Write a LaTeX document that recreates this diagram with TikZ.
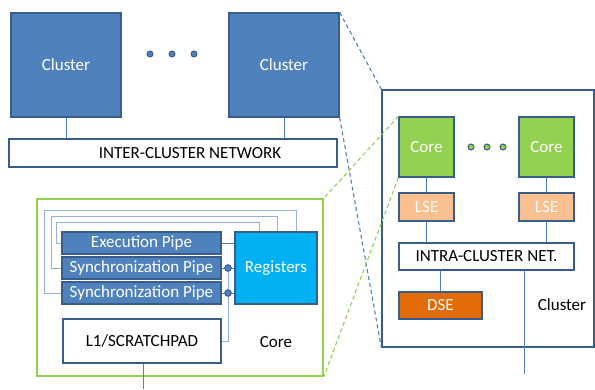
\documentclass[tikz,border=0pt]{standalone}
\usepackage{fontspec}
\setmainfont{Carlito}
\definecolor{officeblue}{HTML}{4F81BD}
\definecolor{edgeblue}{HTML}{385D8A}
\definecolor{paleblue}{HTML}{95B3D7}
\definecolor{coregreen}{HTML}{92D050}
\definecolor{lseorange}{HTML}{FAC090}
\definecolor{dseorange}{HTML}{E36C09}
\definecolor{regcyan}{HTML}{00B0F0}
\tikzset{
  box/.style={draw=edgeblue, line width=1.3pt, inner sep=0pt,
    font=\fontsize{17}{20}\selectfont},
  bluebox/.style={box, fill=officeblue, text=white},
  whitebox/.style={box, fill=white, text=black},
  corebox/.style={box, fill=coregreen, text=white},
  lsebox/.style={box, fill=lseorange, text=white},
  pipebox/.style={box, fill=officeblue, text=white, minimum height=22},
  link/.style={draw=officeblue, line width=0.9pt},
  feed/.style={draw=paleblue, line width=1pt},
  zoomline/.style={dashed, dash pattern=on 4pt off 3pt, line width=1.1pt},
  dotmark/.style={draw=edgeblue, line width=1pt},
  plain/.style={font=\fontsize{17}{20}\selectfont}
}
\begin{document}
\begin{tikzpicture}[x=1pt,y=-1pt]
\useasboundingbox (0,0) rectangle (595,389);
% top level: clusters and network
\node[bluebox, minimum width=110, minimum height=104] (cl1) at (66,65) {Cluster};
\node[bluebox, minimum width=110, minimum height=104] (cl2) at (284,65) {Cluster};
\node[whitebox, minimum width=328, minimum height=28] (inet) at (173,153) {\hspace*{34pt}INTER-CLUSTER NETWORK};
\foreach \x in {150,172,194}
  \filldraw[dotmark, fill=officeblue] (\x,54) circle (3);
\draw[link] (cl1.south) -- (cl1.south |- inet.north);
\draw[link] (cl2.south) -- (cl2.south |- inet.north);

% cluster detail
\node[box, fill=white, minimum width=212, minimum height=257] (rbox) at (488,218.5) {};
\node[corebox, minimum width=55, minimum height=60] (core1) at (426.5,147) {Core};
\node[corebox, minimum width=55, minimum height=60] (core2) at (546.5,147) {Core};
\foreach \x in {471,487,503}
  \filldraw[dotmark, fill=coregreen] (\x,147) circle (3);
\node[lsebox, minimum width=55, minimum height=28] (lse1) at (426.5,207) {LSE};
\node[lsebox, minimum width=55, minimum height=28] (lse2) at (546.5,207) {LSE};
\node[whitebox, minimum width=175, minimum height=27] (intra) at (486.5,256.5) {INTRA-CLUSTER NET.};
\node[box, fill=dseorange, text=white, minimum width=83, minimum height=27] (dse) at (440.5,305.5) {DSE};
\node[plain] (cllabel) at (562,305) {Cluster};
\coordinate (clout) at (524,374);
\draw[link] (core1) -- (lse1);
\draw[link] (core2) -- (lse2);
\draw[link] (lse1.south) -- (lse1.south |- intra.north);
\draw[link] (lse2.south) -- (lse2.south |- intra.north);
\draw[link] (dse.north) -- (dse.north |- intra.south);
\draw[link] (clout |- intra.south) -- (clout);

% core detail
\node[box, draw=coregreen, line width=1.6pt, minimum width=286, minimum height=177] (cbox) at (180,287.5) {};
\node[pipebox, minimum width=159] (exec) at (141.5,243) {Execution Pipe};
\node[pipebox, minimum width=159] (sync1) at (141.5,268) {Synchronization Pipe};
\node[pipebox, minimum width=159] (sync2) at (141.5,293) {Synchronization Pipe};
\node[box, fill=regcyan, text=white, minimum width=82, minimum height=72] (reg) at (276,268) {Registers};
\node[whitebox, minimum width=158, minimum height=44] (l1) at (142,341) {L1/SCRATCHPAD};
\node[plain] (corelabel) at (276,342) {Core};
\coordinate (coreout) at (143,389);
\coordinate (j1) at (228,268);
\coordinate (j2) at (228,293);
\draw[feed] ([xshift=20pt]reg.north) -- ++(0,-21) -| ([xshift=-17pt]sync2.west) -- (sync2.west);
\draw[feed] ([xshift=1pt]reg.north) -- ++(0,-15) -| ([xshift=-10pt]sync1.west) -- (sync1.west);
\draw[feed] ([xshift=-17pt]reg.north) -- ++(0,-9) -| ([xshift=-5pt]exec.west) -- (exec.west);
\draw[feed] (j1) -- (j1 |- l1.east) -- (l1.east);
\draw[link] (exec.east) -- (exec.east -| reg.west);
\draw[link] (sync1.east) -- (sync1.east -| reg.west);
\draw[link] (sync2.east) -- (sync2.east -| reg.west);
\filldraw[dotmark, fill=officeblue] (j1) circle (3.3);
\filldraw[dotmark, fill=officeblue] (j2) circle (3.3);
\draw[link] (l1.south -| coreout) -- (coreout);

% zoom lines
\draw[zoomline, officeblue] (cl2.north east) -- (rbox.north west);
\draw[zoomline, officeblue] (cl2.south east) -- (rbox.south west);
\draw[zoomline, coregreen] (core1.north west) -- (cbox.north east);
\draw[zoomline, coregreen] (core1.south west) -- (cbox.south east);
\end{tikzpicture}
\end{document}
